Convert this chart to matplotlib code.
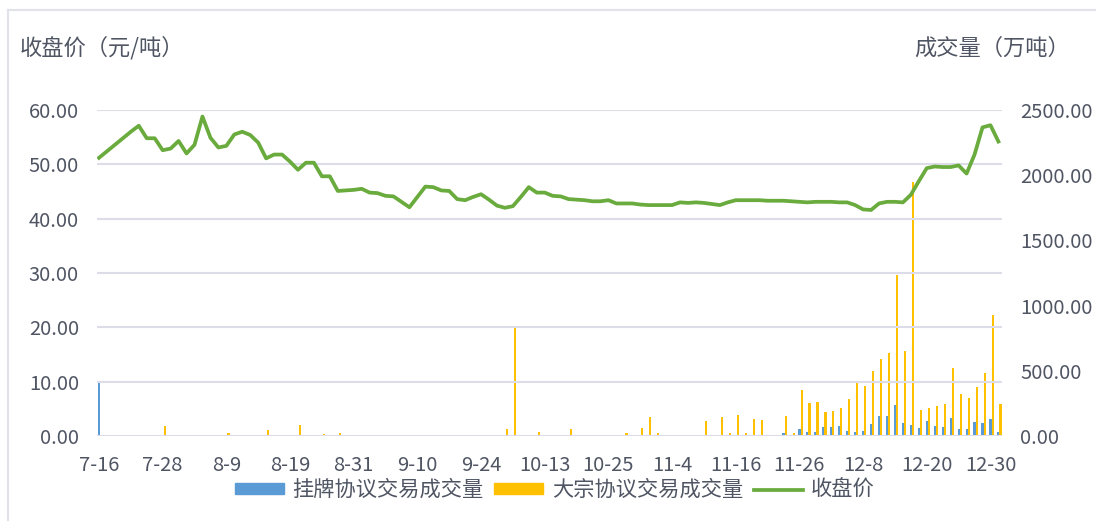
import matplotlib
matplotlib.use("Agg")
import matplotlib.pyplot as plt
from matplotlib.lines import Line2D
from matplotlib.patches import Patch
from matplotlib.ticker import FormatStrFormatter, MultipleLocator, FixedLocator, FixedFormatter
import numpy as np

plt.rcParams['font.family'] = ['Noto Sans CJK SC', 'DejaVu Sans']

# ---------------- data ----------------
tick_labels = ["7-16", "7-28", "8-9", "8-19", "8-31", "9-10", "9-24", "10-13",
               "10-25", "11-4", "11-16", "11-26", "12-8", "12-20", "12-30"]
tick_every = 8  # trading days between labels

# closing price (元/吨), one per trading day 2021-07-16 .. 2021-12-31
close_price = [
    51.2, 52.4, 53.6, 54.8, 56.0, 57.1, 54.8, 54.8, 52.6, 52.9,
    54.3, 52.0, 53.6, 58.8, 54.9, 53.1, 53.4, 55.5, 56.0, 55.4,
    54.0, 51.1, 51.8, 51.8, 50.5, 49.0, 50.3, 50.3, 47.8, 47.8,
    45.1, 45.2, 45.3, 45.5, 44.8, 44.7, 44.2, 44.1, 43.1, 42.1,
    44.0, 45.9, 45.8, 45.2, 45.1, 43.6, 43.4, 44.0, 44.5, 43.5,
    42.4, 42.0, 42.3, 44.0, 45.8, 44.8, 44.8, 44.2, 44.1, 43.6,
    43.5, 43.4, 43.2, 43.2, 43.4, 42.8, 42.8, 42.8, 42.6, 42.5,
    42.5, 42.5, 42.5, 43.0, 42.9, 43.0, 42.9, 42.7, 42.5, 43.0,
    43.4, 43.4, 43.4, 43.4, 43.3, 43.3, 43.3, 43.2, 43.1, 43.0,
    43.1, 43.1, 43.1, 43.0, 43.0, 42.5, 41.7, 41.6, 42.8, 43.1,
    43.1, 43.0, 44.4, 46.9, 49.3, 49.6, 49.5, 49.5, 49.8, 48.3,
    51.8, 56.8, 57.2, 54.2,
]

# 挂牌协议交易成交量 (万吨)
listed_volume = [
    410, 4, 5, 4, 6, 5, 4, 5, 3, 4,
    5, 4, 3, 5, 4, 4, 3, 4, 5, 3,
    4, 3, 4, 5, 4, 3, 4, 3, 4, 3,
    3, 2, 3, 2, 1, 1, 1, 1, 1, 1,
    2, 2, 1, 2, 2, 3, 2, 3, 2, 3,
    3, 3, 4, 3, 3, 3, 4, 3, 3, 4,
    4, 3, 3, 4, 4, 3, 4, 3, 4, 5,
    4, 4, 4, 5, 4, 5, 6, 5, 6, 5,
    6, 8, 10, 6, 5, 7, 20, 10, 51, 33,
    33, 66, 66, 77, 41, 33, 41, 89, 153, 153,
    238, 97, 84, 59, 117, 77, 72, 135, 51, 51,
    110, 102, 130, 33,
]

# 大宗协议交易成交量 (万吨)
block_volume = [
    0, 2, 3, 2, 3, 2, 3, 2, 77, 3,
    2, 3, 2, 3, 3, 2, 25, 3, 2, 3,
    2, 46, 3, 2, 3, 84, 3, 2, 15, 2,
    25, 2, 1, 1, 0, 0, 0, 0, 0, 0,
    1, 1, 0, 1, 1, 2, 1, 2, 1, 2,
    3, 51, 845, 3, 2, 33, 3, 2, 3, 51,
    3, 2, 10, 3, 3, 2, 25, 3, 59, 143,
    25, 3, 3, 4, 3, 5, 118, 5, 143, 25,
    161, 25, 128, 123, 10, 5, 156, 20, 353, 256,
    263, 181, 192, 212, 281, 411, 386, 498, 588, 639,
    1235, 654, 1950, 199, 212, 230, 245, 524, 320, 294,
    378, 486, 928, 245,
]

legend_names = ["挂牌协议交易成交量", "大宗协议交易成交量", "收盘价"]
left_title = "收盘价（元/吨）"
right_title = "成交量（万吨）"

# ---------------- styling ----------------
W, H = 1096, 521
C_BLUE = "#5b9bd5"
C_YELLOW = "#ffc000"
C_GREEN = "#6aab3e"
C_TEXT = "#4f5563"
C_GRID = "#dcdde9"
FS = 14.5

fig = plt.figure(figsize=(W / 100, H / 100), dpi=100)
fig.patch.set_facecolor("white")

# frame lines
fig.add_artist(Line2D([8 / W, 8 / W], [0, 1 - 10 / H], color="#e2e2ea", lw=1.5))
fig.add_artist(Line2D([8 / W, 1], [1 - 10 / H, 1 - 10 / H], color="#e2e2ea", lw=1.5))

x0, x1 = 97, 1002
y_top, y_bot = 110, 436
ax = fig.add_axes([x0 / W, 1 - y_bot / H, (x1 - x0) / W, (y_bot - y_top) / H])
ax2 = ax.twinx()

n = len(close_price)
x = np.arange(n)
bw = 0.27

# bars on volume axis
ax2.bar(x, listed_volume, width=bw, color=C_BLUE, align="center", zorder=2, linewidth=0)
ax2.bar(x + 0.27, block_volume, width=bw, color=C_YELLOW, align="center", zorder=2, linewidth=0)
ax2.set_ylim(0, 2500)
ax2.yaxis.set_major_locator(MultipleLocator(500))
ax2.yaxis.set_major_formatter(FormatStrFormatter("%.2f"))

# price line on price axis (drawn on top)
ax.set_zorder(ax2.get_zorder() + 1)
ax.patch.set_visible(False)
ax.plot(x, close_price, color=C_GREEN, lw=2.7, solid_joinstyle="round", zorder=3)
ax.set_ylim(0, 60)
ax.yaxis.set_major_locator(MultipleLocator(10))
ax.yaxis.set_major_formatter(FormatStrFormatter("%.2f"))
ax.grid(axis="y", color=C_GRID, lw=1.5, zorder=0)
ax.set_axisbelow(True)

ax.set_xlim(-0.25, n - 1 + 0.45)
tick_pos = [i * tick_every for i in range(len(tick_labels))]
ax.xaxis.set_major_locator(FixedLocator(tick_pos))
ax.xaxis.set_major_formatter(FixedFormatter(tick_labels))

for a in (ax, ax2):
    for s in a.spines.values():
        s.set_visible(False)
ax.tick_params(axis="x", length=0, pad=14, labelsize=FS, labelcolor=C_TEXT)
ax.tick_params(axis="y", length=0, pad=13, labelsize=FS, labelcolor=C_TEXT)
ax2.tick_params(axis="y", length=0, pad=13, labelsize=FS, labelcolor=C_TEXT)

# axis titles
fig.text(20 / W, 1 - 48 / H, left_title, ha="left", va="center", fontsize=16, color=C_TEXT)
fig.text(1070 / W, 1 - 48 / H, right_title, ha="right", va="center", fontsize=16, color=C_TEXT)

handles = [Patch(color=C_BLUE), Patch(color=C_YELLOW), Line2D([], [], color=C_GREEN, lw=2.7)]
fig.legend(handles, legend_names, loc="center", bbox_to_anchor=(555 / W, 1 - 490 / H),
           ncol=3, frameon=False, fontsize=15.3, handlelength=2.3, handleheight=0.4,
           handletextpad=0.4, columnspacing=0.5, labelcolor=C_TEXT, borderpad=0)

fig.savefig("out.png", dpi=100, facecolor="white")
